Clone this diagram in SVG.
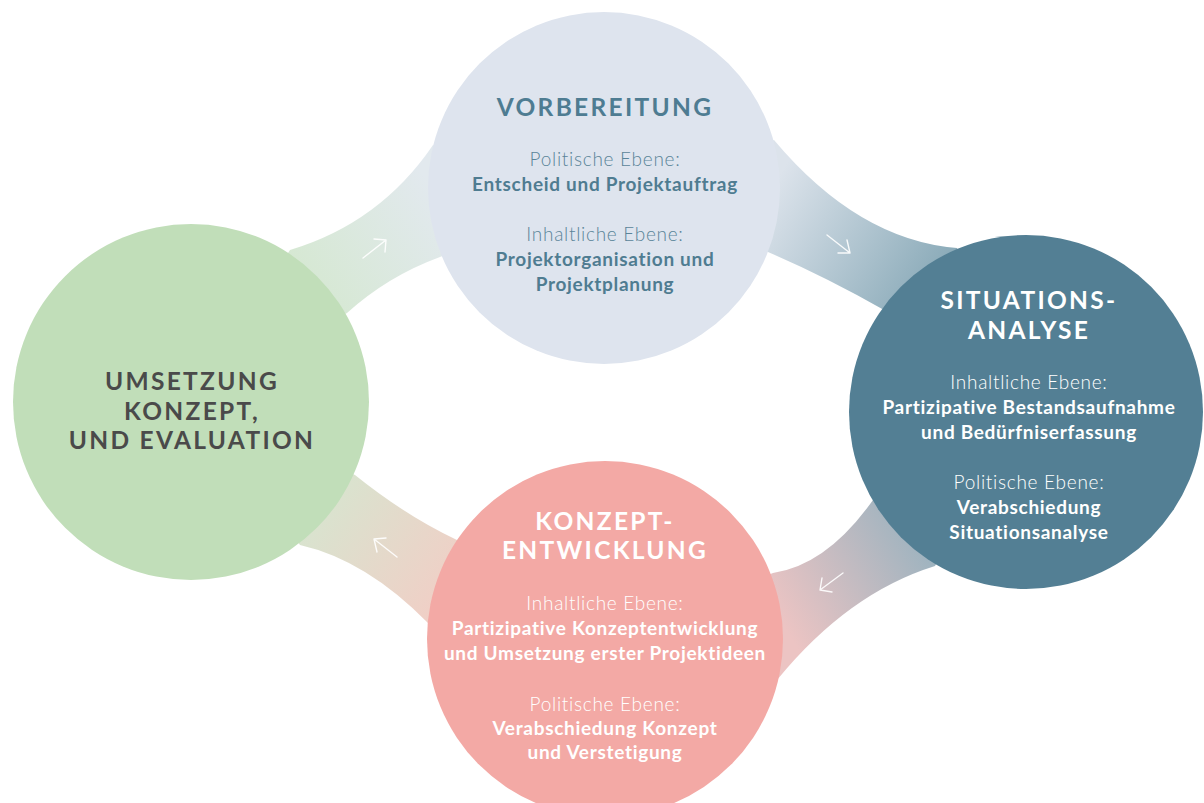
<svg xmlns="http://www.w3.org/2000/svg" width="1204" height="803" viewBox="0 0 1204 803">
<defs>
<linearGradient id="gA" gradientUnits="userSpaceOnUse" x1="300" y1="290" x2="440" y2="200"><stop offset="0" stop-color="#d5e8d1"/><stop offset="1" stop-color="#e2e9ee"/></linearGradient>
<linearGradient id="gB" gradientUnits="userSpaceOnUse" x1="770" y1="190" x2="930" y2="290"><stop offset="0" stop-color="#dce3eb"/><stop offset="1" stop-color="#8babb9"/></linearGradient>
<linearGradient id="gC" gradientUnits="userSpaceOnUse" x1="930" y1="530" x2="780" y2="620"><stop offset="0" stop-color="#98b2bf"/><stop offset="1" stop-color="#ecc4c3"/></linearGradient>
<linearGradient id="gD" gradientUnits="userSpaceOnUse" x1="320" y1="500" x2="450" y2="590"><stop offset="0" stop-color="#d8e4cf"/><stop offset="1" stop-color="#f0cfc6"/></linearGradient>
<style>
.t{font-family:Lato,"Open Sans","Liberation Sans",sans-serif;text-anchor:middle}
.title{font-size:24.5px;font-weight:700;letter-spacing:2.3px}
.lt{font-size:19px;font-weight:300;letter-spacing:0.7px}
.bd{font-size:19px;font-weight:700;letter-spacing:0.7px}
.arr{fill:none;stroke:#ffffff;stroke-width:1.4;stroke-linecap:round;stroke-linejoin:round;opacity:0.9}
</style>
</defs>
<rect width="1204" height="803" fill="#ffffff"/>
<g id="connectors">
<path d="M290,250 Q380,223 433,145 L604,188 L440,257 Q388,276 347,313 L191,402 Z" fill="url(#gA)"/>
<path d="M774,140 Q858,240 957,248 L1026,412 L884,310 Q826,277 768,252 L604,188 Z" fill="url(#gB)"/>
<path d="M873,500 L1026,412 L935,566 Q848,593 777,680 L605,639 L773,573 Q827,565 873,500 Z" fill="url(#gC)"/>
<path d="M355,475 Q406,516 457,540 L605,639 L428,623 Q366,560 300,545 L191,402 Z" fill="url(#gD)"/>
<path class="arr" d="M363,258 L386,240 M374,239 L386,240 L385,252"/>
<path class="arr" d="M827,235 L850,253 M847,240 L850,253 L838,253"/>
<path class="arr" d="M843,573 L820,590 M822,578 L820,590 L832,592"/>
<path class="arr" d="M397,557 L374,539 M386,538 L374,539 L377,552"/>
</g>
<g id="vorbereitung">
<circle cx="604" cy="188" r="176" fill="#dee4ee"/>
<text class="t title" x="605" y="116" fill="#4e7c92">VORBEREITUNG</text>
<text class="t lt" x="605" y="166" fill="#5b8499">Politische Ebene:</text>
<text class="t bd" x="605" y="191" fill="#4f7c91">Entscheid und Projektauftrag</text>
<text class="t lt" x="605" y="241" fill="#5b8499">Inhaltliche Ebene:</text>
<text class="t bd" x="605" y="266" fill="#4f7c91">Projektorganisation und</text>
<text class="t bd" x="605" y="291" fill="#4f7c91">Projektplanung</text>
</g>
<g id="situationsanalyse">
<circle cx="1026" cy="412" r="177" fill="#537f94"/>
<text class="t title" x="1029" y="309" fill="#ffffff">SITUATIONS-</text>
<text class="t title" x="1029" y="339" fill="#ffffff">ANALYSE</text>
<text class="t lt" x="1029" y="389" fill="#ffffff">Inhaltliche Ebene:</text>
<text class="t bd" x="1029" y="414" fill="#ffffff">Partizipative Bestandsaufnahme</text>
<text class="t bd" x="1029" y="439" fill="#ffffff">und Bedürfniserfassung</text>
<text class="t lt" x="1029" y="489" fill="#ffffff">Politische Ebene:</text>
<text class="t bd" x="1029" y="514" fill="#ffffff">Verabschiedung</text>
<text class="t bd" x="1029" y="539" fill="#ffffff">Situationsanalyse</text>
</g>
<g id="konzeptentwicklung">
<circle cx="605" cy="639" r="178" fill="#f3a9a5"/>
<text class="t title" x="605" y="530" fill="#ffffff">KONZEPT-</text>
<text class="t title" x="605" y="559" fill="#ffffff">ENTWICKLUNG</text>
<text class="t lt" x="605" y="610" fill="#ffffff">Inhaltliche Ebene:</text>
<text class="t bd" x="605" y="635" fill="#ffffff">Partizipative Konzeptentwicklung</text>
<text class="t bd" x="605" y="660" fill="#ffffff">und Umsetzung erster Projektideen</text>
<text class="t lt" x="605" y="711" fill="#ffffff">Politische Ebene:</text>
<text class="t bd" x="605" y="735" fill="#ffffff">Verabschiedung Konzept</text>
<text class="t bd" x="605" y="759" fill="#ffffff">und Verstetigung</text>
</g>
<g id="umsetzung">
<circle cx="191" cy="402" r="178" fill="#c1deb9"/>
<text class="t title" x="192" y="390" fill="#4a4a4a">UMSETZUNG</text>
<text class="t title" x="192" y="420" fill="#4a4a4a">KONZEPT,</text>
<text class="t title" x="192" y="449" fill="#4a4a4a">UND EVALUATION</text>
</g>
</svg>
